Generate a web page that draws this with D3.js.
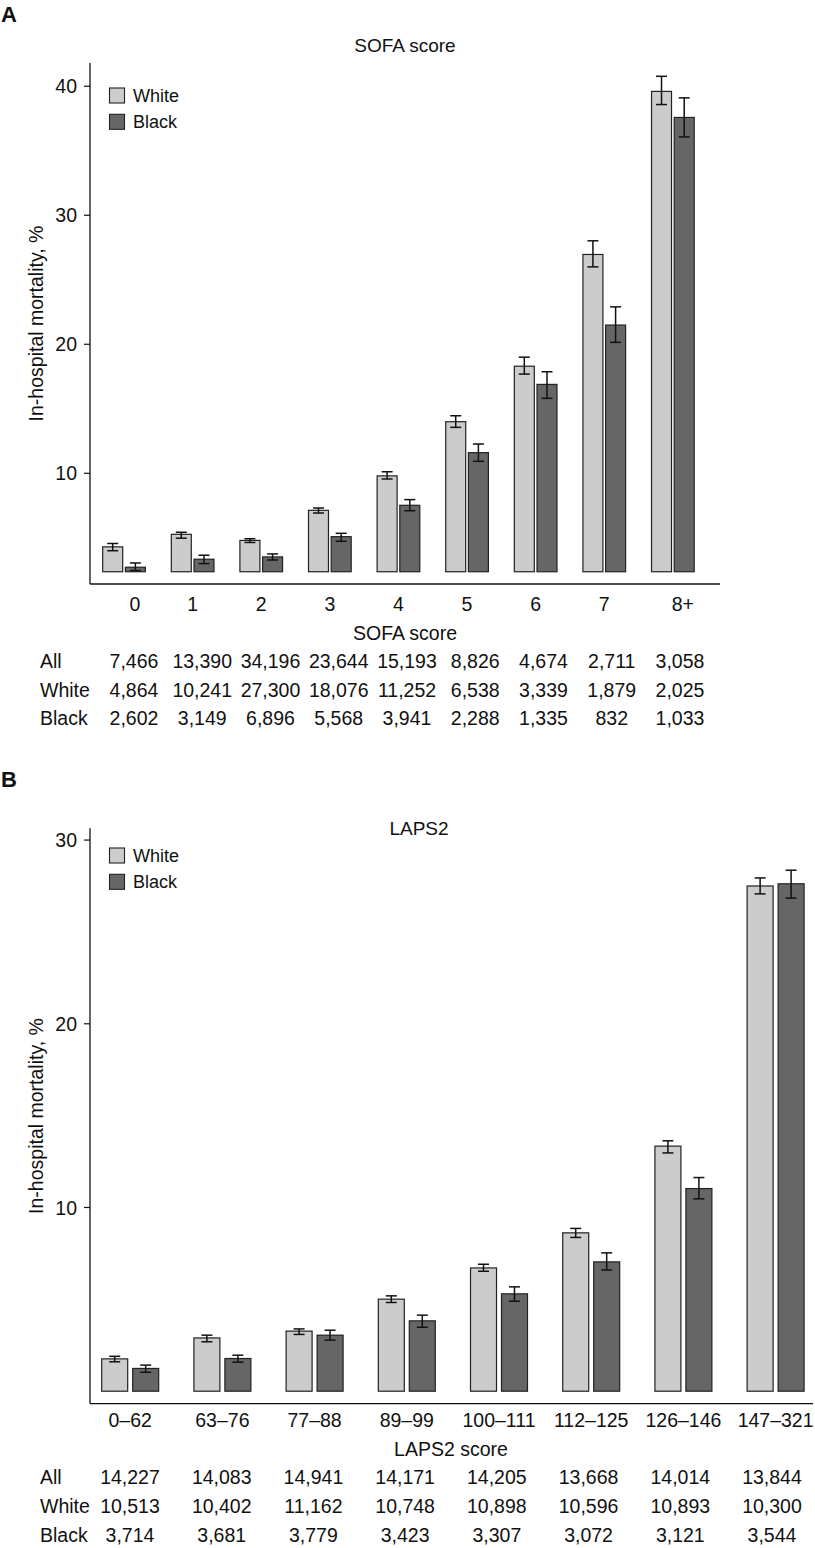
<!DOCTYPE html>
<html><head><meta charset="utf-8">
<script src="https://cdn.jsdelivr.net/npm/d3@7"></script>
<style>
body{margin:0;background:#fff;}
text{font-family:"Liberation Sans",Arial,Helvetica,sans-serif;fill:#111;}
</style></head>
<body>
<script>
// ---------- DATA ----------
const series = ["White", "Black"];
const sofaCats = ["0","1","2","3","4","5","6","7","8+"];
const sofaWhite   = [4.3, 5.27, 4.8, 7.13, 9.8, 14.0, 18.3, 26.96, 39.6];
const sofaWhiteLo = [4.0, 4.97, 4.64, 6.92, 9.56, 13.56, 17.69, 26.0, 38.58];
const sofaWhiteHi = [4.56, 5.43, 4.93, 7.31, 10.12, 14.46, 19.0, 28.02, 40.77];
const sofaBlack   = [2.72, 3.34, 3.52, 5.09, 7.52, 11.6, 16.89, 21.49, 37.58];
const sofaBlackLo = [2.46, 3.0, 3.28, 4.73, 7.1, 10.93, 15.81, 20.15, 36.07];
const sofaBlackHi = [3.05, 3.65, 3.75, 5.35, 7.96, 12.27, 17.87, 22.9, 39.1];
const sofaTicks = [10, 20, 30, 40];
const sofaAll  = ["7,466","13,390","34,196","23,644","15,193","8,826","4,674","2,711","3,058"];
const sofaNW   = ["4,864","10,241","27,300","18,076","11,252","6,538","3,339","1,879","2,025"];
const sofaNB   = ["2,602","3,149","6,896","5,568","3,941","2,288","1,335","832","1,033"];

const lapsCats = ["0–62","63–76","77–88","89–99","100–111","112–125","126–146","147–321"];
const lapsWhite   = [1.76, 2.9, 3.27, 5.01, 6.71, 8.62, 13.34, 27.5];
const lapsWhiteLo = [1.6, 2.69, 3.09, 4.83, 6.53, 8.37, 12.97, 27.07];
const lapsWhiteHi = [1.9, 3.05, 3.39, 5.19, 6.91, 8.86, 13.63, 27.94];
const lapsBlack   = [1.24, 1.78, 3.05, 3.83, 5.3, 7.04, 11.03, 27.62];
const lapsBlackLo = [1.03, 1.58, 2.78, 3.48, 4.9, 6.6, 10.47, 26.84];
const lapsBlackHi = [1.42, 1.96, 3.32, 4.14, 5.68, 7.53, 11.63, 28.36];
const lapsTicks = [10, 20, 30];
const lapsAll = ["14,227","14,083","14,941","14,171","14,205","13,668","14,014","13,844"];
const lapsNW  = ["10,513","10,402","11,162","10,748","10,898","10,596","10,893","10,300"];
const lapsNB  = ["3,714","3,681","3,779","3,423","3,307","3,072","3,121","3,544"];
const rowLabels = ["All", "White", "Black"];

// ---------- DRAW ----------
const W = 815, H = 1548;
const svg = d3.select("body").append("svg").attr("width", W).attr("height", H);
const fill = {White: "#cccccc", Black: "#666666"};
const FS = 19.5;

function panel(o) {
  const g = svg.append("g");
  const x = d3.scaleBand().domain(o.cats).range(o.xRange).paddingInner(o.padInner).paddingOuter(0);
  const xs = d3.scaleBand().domain(series).range([0, x.bandwidth()]).paddingInner(o.subPad);
  const y = d3.scaleLinear().domain(o.yDomain).range(o.yRange);

  g.append("text").attr("x", 1).attr("y", o.letterY).attr("font-size", 22).attr("font-weight", "bold").text(o.letter);
  g.append("text").attr("x", o.titleX).attr("y", o.titleY).attr("text-anchor", "middle").attr("font-size", 19).text(o.title);

  g.append("line").attr("x1", o.axisX).attr("x2", o.axisX).attr("y1", o.yRange[1]).attr("y2", o.yRange[0])
    .attr("stroke", "#111").attr("stroke-width", 1.3);
  g.append("line").attr("x1", o.axisX).attr("x2", o.xAxisEnd).attr("y1", o.yRange[0]).attr("y2", o.yRange[0])
    .attr("stroke", "#111").attr("stroke-width", 1.3);

  const yt = g.selectAll(".yt").data(o.ticks).enter().append("g").attr("transform", d => `translate(${o.axisX},${y(d)})`);
  yt.append("line").attr("x1", -6).attr("x2", 0).attr("stroke", "#111").attr("stroke-width", 1.2);
  yt.append("text").attr("x", -13).attr("dy", "0.36em").attr("text-anchor", "end").attr("font-size", FS).text(d => d);

  g.append("text").attr("transform", `translate(${o.yTitleX},${(o.yRange[0] + o.yRange[1]) / 2}) rotate(-90)`)
    .attr("text-anchor", "middle").attr("font-size", FS).text("In-hospital mortality, %");

  const rows = [];
  o.cats.forEach((c, i) => {
    rows.push({c, s: "White", v: o.w[i], lo: o.wLo[i], hi: o.wHi[i]});
    rows.push({c, s: "Black", v: o.b[i], lo: o.bLo[i], hi: o.bHi[i]});
  });
  const bg = g.selectAll(".bar").data(rows).enter().append("g");
  bg.append("rect")
    .attr("x", d => x(d.c) + xs(d.s)).attr("width", xs.bandwidth())
    .attr("y", d => y(d.v)).attr("height", d => y(o.base) - y(d.v))
    .attr("fill", d => fill[d.s]).attr("stroke", "#222").attr("stroke-width", 1.2);
  const cx = d => x(d.c) + xs(d.s) + xs.bandwidth() / 2;
  bg.append("line").attr("x1", cx).attr("x2", cx).attr("y1", d => y(d.lo)).attr("y2", d => y(d.hi))
    .attr("stroke", "#111").attr("stroke-width", 1.5);
  ["lo", "hi"].forEach(k => {
    bg.append("line").attr("x1", d => cx(d) - 5.5).attr("x2", d => cx(d) + 5.5)
      .attr("y1", d => y(d[k])).attr("y2", d => y(d[k])).attr("stroke", "#111").attr("stroke-width", 1.5);
  });

  const lg = g.append("g");
  series.forEach((s, i) => {
    lg.append("rect").attr("x", 109.5).attr("y", o.legY + i * 26.3).attr("width", 15).attr("height", 15)
      .attr("fill", fill[s]).attr("stroke", "#222").attr("stroke-width", 1.1);
    lg.append("text").attr("x", 133).attr("y", o.legY + i * 26.3 + 14).attr("font-size", 18).text(s);
  });

  g.selectAll(".xt").data(o.cats).enter().append("text")
    .attr("x", (d, i) => x(d) + x.bandwidth() / 2 + (o.tickShift[i] || 0))
    .attr("y", o.tickY).attr("text-anchor", "middle").attr("font-size", FS).text(d => d);
  g.append("text").attr("x", o.xTitleX).attr("y", o.tickY + o.rowGap).attr("text-anchor", "middle")
    .attr("font-size", FS).text(o.xTitle);

  const col = d3.scalePoint().domain(o.cats).range(o.colRange);
  [o.nAll, o.nW, o.nB].forEach((arr, r) => {
    const yy = o.tickY + o.rowGap * (r + 2);
    g.append("text").attr("x", 40).attr("y", yy).attr("font-size", FS).text(rowLabels[r]);
    g.selectAll(null).data(arr).enter().append("text")
      .attr("x", (d, i) => col(o.cats[i])).attr("y", yy).attr("text-anchor", "middle").attr("font-size", FS).text(d => d);
  });
}

panel({
  letter: "A", letterY: 22, title: "SOFA score", titleX: 405, titleY: 52,
  cats: sofaCats, w: sofaWhite, wLo: sofaWhiteLo, wHi: sofaWhiteHi, b: sofaBlack, bLo: sofaBlackLo, bHi: sofaBlackHi,
  ticks: sofaTicks, xRange: [102.7, 694.2], padInner: 0.378, subPad: 0.119,
  yDomain: [1.42, 41.8], yRange: [584, 63], base: 2.37, axisX: 90, xAxisEnd: 720, yTitleX: 43,
  legY: 88, tickY: 611, rowGap: 28.5, xTitle: "SOFA score", xTitleX: 405,
  tickShift: [11, 0, 0, 0, 0, 0, 0, 0, 10], colRange: [134, 680],
  nAll: sofaAll, nW: sofaNW, nB: sofaNB
});

panel({
  letter: "B", letterY: 787, title: "LAPS2", titleX: 419, titleY: 835,
  cats: lapsCats, w: lapsWhite, wLo: lapsWhiteLo, wHi: lapsWhiteHi, b: lapsBlack, bLo: lapsBlackLo, bHi: lapsBlackHi,
  ticks: lapsTicks, xRange: [101.7, 804.1], padInner: 0.382, subPad: 0.161,
  yDomain: [-0.68, 30.64], yRange: [1403.7, 828.3], base: 0, axisX: 90, xAxisEnd: 813, yTitleX: 43,
  legY: 848, tickY: 1427, rowGap: 28.7, xTitle: "LAPS2 score", xTitleX: 451,
  tickShift: [], colRange: [130, 772],
  nAll: lapsAll, nW: lapsNW, nB: lapsNB
});
</script>
</body></html>
